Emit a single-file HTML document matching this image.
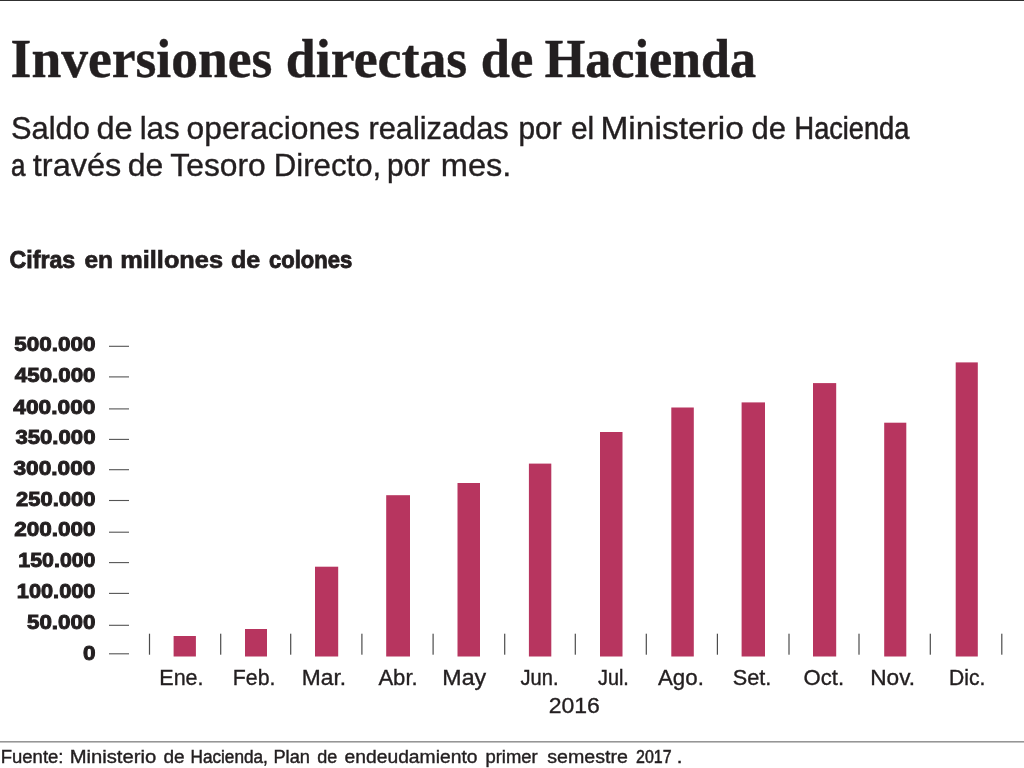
<!DOCTYPE html>
<html lang="es">
<head>
<meta charset="utf-8">
<title>Inversiones directas de Hacienda</title>
<style>
html,body{margin:0;padding:0;background:#fff;}
body{width:1024px;height:768px;overflow:hidden;}
svg{display:block;}
</style>
</head>
<body>
<svg width="1024" height="768" viewBox="0 0 1024 768">
<rect x="0" y="0" width="1024" height="768" fill="#ffffff"/>
<!-- top rule -->
<rect x="0" y="0" width="1024" height="1" fill="#303030"/>
<!-- headline -->
<text y="76.7" font-family="'Liberation Serif', 'Times New Roman', serif" font-size="54" font-weight="bold" fill="#231f20" stroke="#231f20" stroke-width="0.4"><tspan x="10.61" textLength="261.70" lengthAdjust="spacingAndGlyphs">Inversiones</tspan> <tspan x="285.80" textLength="181.51" lengthAdjust="spacingAndGlyphs">directas</tspan> <tspan x="480.85" textLength="52.59" lengthAdjust="spacingAndGlyphs">de</tspan> <tspan x="544.80" textLength="211.20" lengthAdjust="spacingAndGlyphs" stroke-width="0.57">Hacienda</tspan></text>
<!-- deck -->
<text y="139.2" font-family="'Liberation Sans', Arial, sans-serif" font-size="32" font-weight="normal" fill="#231f20" stroke="#231f20" stroke-width="0.35"><tspan x="10.94" textLength="78.83" lengthAdjust="spacingAndGlyphs" stroke-width="0.41">Saldo</tspan> <tspan x="96.48" textLength="36.23" lengthAdjust="spacingAndGlyphs">de</tspan> <tspan x="139.64" textLength="40.14" lengthAdjust="spacingAndGlyphs">las</tspan> <tspan x="186.51" textLength="173.29" lengthAdjust="spacingAndGlyphs">operaciones</tspan> <tspan x="368.38" textLength="140.39" lengthAdjust="spacingAndGlyphs" stroke-width="0.41">realizadas</tspan> <tspan x="518.43" textLength="43.15" lengthAdjust="spacingAndGlyphs" stroke-width="0.46">por</tspan> <tspan x="570.97" textLength="23.20" lengthAdjust="spacingAndGlyphs" stroke-width="0.47">el</tspan> <tspan x="600.40" textLength="143.53" lengthAdjust="spacingAndGlyphs">Ministerio</tspan> <tspan x="751.53" textLength="34.54" lengthAdjust="spacingAndGlyphs">de</tspan> <tspan x="794.60" textLength="114.62" lengthAdjust="spacingAndGlyphs" stroke-width="0.61">Hacienda</tspan></text>
<text y="176.2" font-family="'Liberation Sans', Arial, sans-serif" font-size="32" font-weight="normal" fill="#231f20" stroke="#231f20" stroke-width="0.35"><tspan x="11.09" textLength="14.34" lengthAdjust="spacingAndGlyphs" stroke-width="0.68">a</tspan> <tspan x="32.80" textLength="88.52" lengthAdjust="spacingAndGlyphs">través</tspan> <tspan x="127.80" textLength="35.49" lengthAdjust="spacingAndGlyphs">de</tspan> <tspan x="170.30" textLength="95.49" lengthAdjust="spacingAndGlyphs">Tesoro</tspan> <tspan x="273.65" textLength="107.60" lengthAdjust="spacingAndGlyphs">Directo,</tspan> <tspan x="386.94" textLength="43.04" lengthAdjust="spacingAndGlyphs" stroke-width="0.47">por</tspan> <tspan x="440.76" textLength="70.58" lengthAdjust="spacingAndGlyphs">mes.</tspan></text>
<!-- units -->
<text y="267.8" font-family="'Liberation Sans', Arial, sans-serif" font-size="24.8" font-weight="bold" fill="#231f20" stroke="#231f20" stroke-width="0.7"><tspan x="9.57" textLength="65.67" lengthAdjust="spacingAndGlyphs" stroke-width="0.85">Cifras</tspan> <tspan x="84.40" textLength="28.53" lengthAdjust="spacingAndGlyphs">en</tspan> <tspan x="120.28" textLength="102.73" lengthAdjust="spacingAndGlyphs">millones</tspan> <tspan x="230.99" textLength="29.31" lengthAdjust="spacingAndGlyphs">de</tspan> <tspan x="269.00" textLength="83.30" lengthAdjust="spacingAndGlyphs" stroke-width="0.95">colones</tspan></text>
<!-- y axis -->
<text y="351.0" font-family="'Liberation Sans', Arial, sans-serif" font-size="19.5" font-weight="bold" fill="#231f20" stroke="#231f20" stroke-width="0.9"><tspan x="14.20" textLength="81.27" lengthAdjust="spacingAndGlyphs">500.000</tspan></text>
<rect x="109" y="345.75" width="20" height="1.1" fill="#555"/>
<text y="381.5" font-family="'Liberation Sans', Arial, sans-serif" font-size="19.5" font-weight="bold" fill="#231f20" stroke="#231f20" stroke-width="0.9"><tspan x="14.85" textLength="80.62" lengthAdjust="spacingAndGlyphs">450.000</tspan></text>
<rect x="109" y="376.35" width="20" height="1.1" fill="#555"/>
<text y="413.5" font-family="'Liberation Sans', Arial, sans-serif" font-size="19.5" font-weight="bold" fill="#231f20" stroke="#231f20" stroke-width="0.9"><tspan x="13.25" textLength="82.22" lengthAdjust="spacingAndGlyphs">400.000</tspan></text>
<rect x="109" y="408.35" width="20" height="1.1" fill="#555"/>
<text y="444.2" font-family="'Liberation Sans', Arial, sans-serif" font-size="19.5" font-weight="bold" fill="#231f20" stroke="#231f20" stroke-width="0.9"><tspan x="15.45" textLength="80.02" lengthAdjust="spacingAndGlyphs">350.000</tspan></text>
<rect x="109" y="438.85" width="20" height="1.1" fill="#555"/>
<text y="474.7" font-family="'Liberation Sans', Arial, sans-serif" font-size="19.5" font-weight="bold" fill="#231f20" stroke="#231f20" stroke-width="0.9"><tspan x="13.45" textLength="82.02" lengthAdjust="spacingAndGlyphs">300.000</tspan></text>
<rect x="109" y="469.15" width="20" height="1.1" fill="#555"/>
<text y="505.5" font-family="'Liberation Sans', Arial, sans-serif" font-size="19.5" font-weight="bold" fill="#231f20" stroke="#231f20" stroke-width="0.9"><tspan x="16.05" textLength="79.43" lengthAdjust="spacingAndGlyphs">250.000</tspan></text>
<rect x="109" y="499.95" width="20" height="1.1" fill="#555"/>
<text y="536.4" font-family="'Liberation Sans', Arial, sans-serif" font-size="19.5" font-weight="bold" fill="#231f20" stroke="#231f20" stroke-width="0.9"><tspan x="14.20" textLength="81.27" lengthAdjust="spacingAndGlyphs">200.000</tspan></text>
<rect x="109" y="531.65" width="20" height="1.1" fill="#555"/>
<text y="567.3" font-family="'Liberation Sans', Arial, sans-serif" font-size="19.5" font-weight="bold" fill="#231f20" stroke="#231f20" stroke-width="0.9"><tspan x="18.36" textLength="77.12" lengthAdjust="spacingAndGlyphs">150.000</tspan></text>
<rect x="109" y="562.05" width="20" height="1.1" fill="#555"/>
<text y="598.3" font-family="'Liberation Sans', Arial, sans-serif" font-size="19.5" font-weight="bold" fill="#231f20" stroke="#231f20" stroke-width="0.9"><tspan x="16.83" textLength="78.64" lengthAdjust="spacingAndGlyphs">100.000</tspan></text>
<rect x="109" y="592.85" width="20" height="1.1" fill="#555"/>
<text y="628.8" font-family="'Liberation Sans', Arial, sans-serif" font-size="19.5" font-weight="bold" fill="#231f20" stroke="#231f20" stroke-width="0.9"><tspan x="26.95" textLength="68.52" lengthAdjust="spacingAndGlyphs">50.000</tspan></text>
<rect x="109" y="624.75" width="20" height="1.1" fill="#555"/>
<text y="659.7" font-family="'Liberation Sans', Arial, sans-serif" font-size="19.5" font-weight="bold" fill="#231f20" stroke="#231f20" stroke-width="0.9"><tspan x="82.95" textLength="12.52" lengthAdjust="spacingAndGlyphs">0</tspan></text>
<rect x="109" y="653.25" width="20" height="1.1" fill="#555"/>
<!-- x axis ticks -->
<rect x="148.9" y="633.7" width="1.2" height="21" fill="#4c4c4c"/>
<rect x="220.1" y="633.7" width="1.2" height="21" fill="#4c4c4c"/>
<rect x="290.1" y="633.7" width="1.2" height="21" fill="#4c4c4c"/>
<rect x="361.3" y="633.7" width="1.2" height="21" fill="#4c4c4c"/>
<rect x="432.5" y="633.7" width="1.2" height="21" fill="#4c4c4c"/>
<rect x="504.1" y="633.7" width="1.2" height="21" fill="#4c4c4c"/>
<rect x="574.7" y="633.7" width="1.2" height="21" fill="#4c4c4c"/>
<rect x="645.7" y="633.7" width="1.2" height="21" fill="#4c4c4c"/>
<rect x="716.8" y="633.7" width="1.2" height="21" fill="#4c4c4c"/>
<rect x="788.4" y="633.7" width="1.2" height="21" fill="#4c4c4c"/>
<rect x="858.4" y="633.7" width="1.2" height="21" fill="#4c4c4c"/>
<rect x="929.7" y="633.7" width="1.2" height="21" fill="#4c4c4c"/>
<rect x="1001.2" y="633.7" width="1.2" height="21" fill="#4c4c4c"/>
<!-- bars -->
<rect x="173.6" y="636.0" width="22.3" height="20.5" fill="#b7355f"/>
<rect x="245.0" y="629.0" width="22.0" height="27.5" fill="#b7355f"/>
<rect x="315.0" y="566.7" width="23.2" height="89.8" fill="#b7355f"/>
<rect x="386.2" y="495.2" width="23.8" height="161.3" fill="#b7355f"/>
<rect x="457.5" y="483.0" width="22.5" height="173.5" fill="#b7355f"/>
<rect x="528.9" y="463.6" width="22.4" height="192.9" fill="#b7355f"/>
<rect x="600.0" y="432.0" width="22.5" height="224.5" fill="#b7355f"/>
<rect x="671.3" y="407.5" width="22.5" height="249.0" fill="#b7355f"/>
<rect x="741.6" y="402.4" width="23.4" height="254.1" fill="#b7355f"/>
<rect x="813.0" y="383.1" width="23.2" height="273.4" fill="#b7355f"/>
<rect x="884.2" y="422.7" width="22.1" height="233.8" fill="#b7355f"/>
<rect x="955.7" y="362.4" width="22.1" height="294.1" fill="#b7355f"/>
<!-- month labels -->
<text y="685.0" font-family="'Liberation Sans', Arial, sans-serif" font-size="21.8" font-weight="normal" fill="#231f20" stroke="#231f20" stroke-width="0.35"><tspan x="159.31" textLength="44.23" lengthAdjust="spacingAndGlyphs">Ene.</tspan></text>
<text y="685.0" font-family="'Liberation Sans', Arial, sans-serif" font-size="21.8" font-weight="normal" fill="#231f20" stroke="#231f20" stroke-width="0.35"><tspan x="232.82" textLength="42.61" lengthAdjust="spacingAndGlyphs">Feb.</tspan></text>
<text y="685.0" font-family="'Liberation Sans', Arial, sans-serif" font-size="21.8" font-weight="normal" fill="#231f20" stroke="#231f20" stroke-width="0.35"><tspan x="301.75" textLength="44.35" lengthAdjust="spacingAndGlyphs">Mar.</tspan></text>
<text y="685.0" font-family="'Liberation Sans', Arial, sans-serif" font-size="21.8" font-weight="normal" fill="#231f20" stroke="#231f20" stroke-width="0.35"><tspan x="378.40" textLength="39.27" lengthAdjust="spacingAndGlyphs">Abr.</tspan></text>
<text y="685.0" font-family="'Liberation Sans', Arial, sans-serif" font-size="21.8" font-weight="normal" fill="#231f20" stroke="#231f20" stroke-width="0.35"><tspan x="442.33" textLength="43.86" lengthAdjust="spacingAndGlyphs">May</tspan></text>
<text y="685.0" font-family="'Liberation Sans', Arial, sans-serif" font-size="21.8" font-weight="normal" fill="#231f20" stroke="#231f20" stroke-width="0.35"><tspan x="520.60" textLength="37.87" lengthAdjust="spacingAndGlyphs" stroke-width="0.44">Jun.</tspan></text>
<text y="685.0" font-family="'Liberation Sans', Arial, sans-serif" font-size="21.8" font-weight="normal" fill="#231f20" stroke="#231f20" stroke-width="0.35"><tspan x="598.00" textLength="30.76" lengthAdjust="spacingAndGlyphs" stroke-width="0.46">Jul.</tspan></text>
<text y="685.0" font-family="'Liberation Sans', Arial, sans-serif" font-size="21.8" font-weight="normal" fill="#231f20" stroke="#231f20" stroke-width="0.35"><tspan x="658.00" textLength="45.88" lengthAdjust="spacingAndGlyphs">Ago.</tspan></text>
<text y="685.0" font-family="'Liberation Sans', Arial, sans-serif" font-size="21.8" font-weight="normal" fill="#231f20" stroke="#231f20" stroke-width="0.35"><tspan x="732.80" textLength="38.55" lengthAdjust="spacingAndGlyphs">Set.</tspan></text>
<text y="685.0" font-family="'Liberation Sans', Arial, sans-serif" font-size="21.8" font-weight="normal" fill="#231f20" stroke="#231f20" stroke-width="0.35"><tspan x="803.59" textLength="40.48" lengthAdjust="spacingAndGlyphs">Oct.</tspan></text>
<text y="685.0" font-family="'Liberation Sans', Arial, sans-serif" font-size="21.8" font-weight="normal" fill="#231f20" stroke="#231f20" stroke-width="0.35"><tspan x="870.16" textLength="44.94" lengthAdjust="spacingAndGlyphs">Nov.</tspan></text>
<text y="685.0" font-family="'Liberation Sans', Arial, sans-serif" font-size="21.8" font-weight="normal" fill="#231f20" stroke="#231f20" stroke-width="0.35"><tspan x="949.03" textLength="36.29" lengthAdjust="spacingAndGlyphs" stroke-width="0.39">Dic.</tspan></text>
<text y="713.1" font-family="'Liberation Sans', Arial, sans-serif" font-size="22.9" font-weight="normal" fill="#231f20" stroke="#231f20" stroke-width="0.35"><tspan x="548.69" textLength="51.24" lengthAdjust="spacingAndGlyphs">2016</tspan></text>
<!-- source -->
<rect x="0" y="741.15" width="1024" height="1.35" fill="#858585"/>
<text y="763.2" font-family="'Liberation Sans', Arial, sans-serif" font-size="19.2" font-weight="normal" fill="#231f20" stroke="#231f20" stroke-width="0.4"><tspan x="0.74" textLength="62.75" lengthAdjust="spacingAndGlyphs" stroke-width="0.44">Fuente:</tspan> <tspan x="69.65" textLength="86.56" lengthAdjust="spacingAndGlyphs">Ministerio</tspan> <tspan x="163.40" textLength="21.17" lengthAdjust="spacingAndGlyphs">de</tspan> <tspan x="190.51" textLength="77.28" lengthAdjust="spacingAndGlyphs" stroke-width="0.51">Hacienda,</tspan> <tspan x="273.45" textLength="36.49" lengthAdjust="spacingAndGlyphs" stroke-width="0.45">Plan</tspan> <tspan x="317.20" textLength="20.03" lengthAdjust="spacingAndGlyphs" stroke-width="0.46">de</tspan> <tspan x="344.50" textLength="132.97" lengthAdjust="spacingAndGlyphs">endeudamiento</tspan> <tspan x="485.44" textLength="52.27" lengthAdjust="spacingAndGlyphs" stroke-width="0.44">primer</tspan> <tspan x="547.20" textLength="80.69" lengthAdjust="spacingAndGlyphs">semestre</tspan> <tspan x="636.00" textLength="35.56" lengthAdjust="spacingAndGlyphs" stroke-width="0.57">2017</tspan> <tspan x="676.73" textLength="5.69" lengthAdjust="spacingAndGlyphs">.</tspan></text>
</svg>
</body>
</html>
